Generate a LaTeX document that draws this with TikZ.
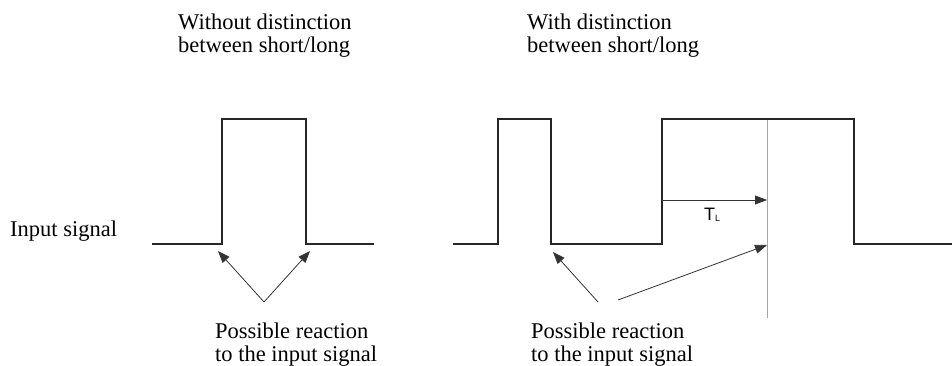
\documentclass[tikz,border=0pt]{standalone}
\usepackage{fontspec}
\setmainfont{Liberation Serif}
\newfontfamily\lsans{Liberation Sans}
\usetikzlibrary{arrows.meta}
\begin{document}
\begin{tikzpicture}[x=1pt,y=-1pt,
  signal/.style={draw=black!85, line width=1.3pt, line join=miter},
  reaction/.style={draw=black!80, line width=0.8pt, -{Triangle[length=12pt,width=9pt]}},
  marker/.style={draw=black!35, line width=0.8pt},
  txt/.style={inner sep=0pt, font=\fontsize{22.5}{23}\selectfont, align=left, anchor=base west}]
\useasboundingbox (0,0) rectangle (952,366);
% titles (base anchor = baseline of last line)
\node[txt] (t1) at (178,53) {Without distinction\\between short/long};
\node[txt] (t2) at (527,53) {With distinction\\between short/long};
\node[txt] (inp) at (10,236) {Input signal};
\node[txt] (r1) at (215,361) {Possible reaction\\to the input signal};
\node[txt] (r2) at (531,361) {Possible reaction\\to the input signal};
% left waveform
\draw[signal] (152,244) -- (222,244) -- (222,119) -- (306,119) -- (306,244) -- (374,244);
% right waveform
\draw[signal] (453,244) -- (498,244) -- (498,119) -- (551,119) -- (551,244) -- (662,244)
  -- (662,119) -- (854,119) -- (854,244) -- (952,244);
% marker line
\coordinate (mtop) at (767,120);
\coordinate (mbot) at (767,318);
\draw[marker] (mtop) -- (mbot);
% reaction arrows
\coordinate (lsrc) at (264,302);
\coordinate (la1) at (218,251);
\coordinate (la2) at (310,251);
\coordinate (rsrc1) at (598,302);
\coordinate (ra1) at (553,252);
\coordinate (rsrc2) at (618,300);
\coordinate (ra2) at (767,245);
\draw[reaction] (lsrc) -- (la1);
\draw[reaction] (lsrc) -- (la2);
\draw[reaction] (rsrc1) -- (ra1);
\draw[reaction] (rsrc2) -- (ra2);
% T_L
\coordinate (tls) at (662,200);
\coordinate (tle) at (767,200);
\draw[reaction] (tls) -- (tle);
\node[inner sep=0pt, anchor=base west, font=\lsans\fontsize{18}{18}\selectfont] (tl) at (704,220) {T\raisebox{-1pt}{\fontsize{9}{9}\selectfont L}};
\end{tikzpicture}
\end{document}
